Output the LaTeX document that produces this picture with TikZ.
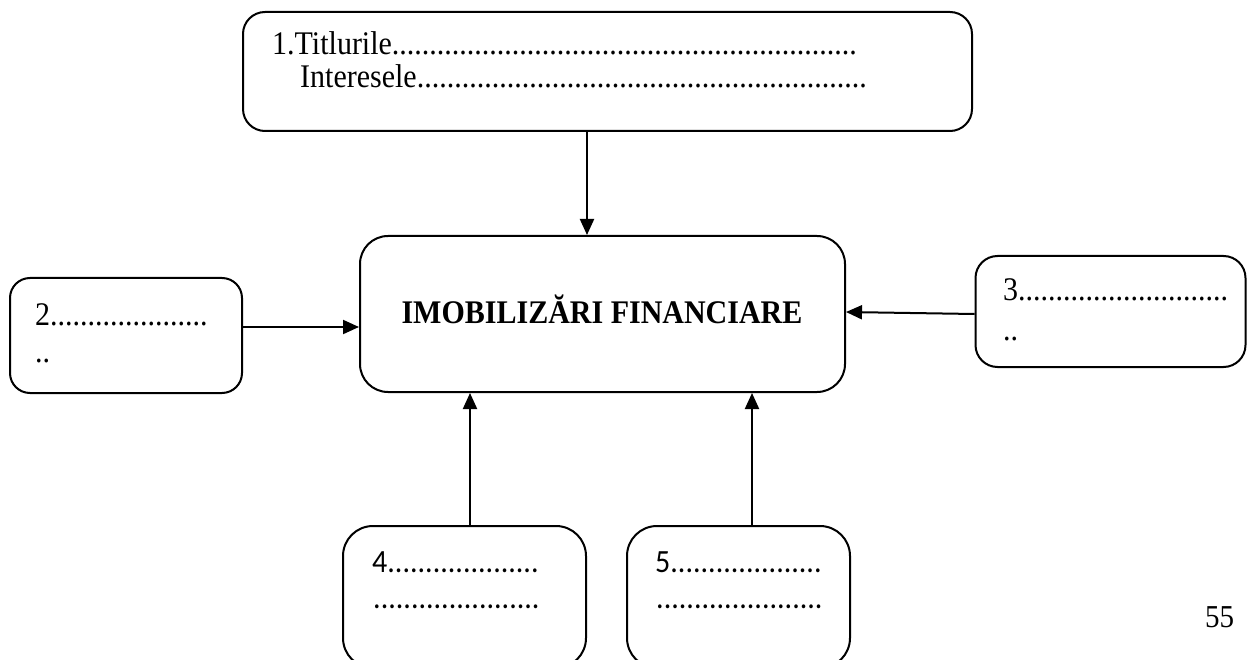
\documentclass[tikz,border=0pt]{standalone}
\usepackage{fontspec}
\setmainfont{Liberation Serif}
\newfontfamily\calibfont{Carlito}
\usetikzlibrary{arrows.meta}
\begin{document}
\begin{tikzpicture}[x=1pt,y=-1pt,
  box/.style={draw, line width=2pt, rounded corners=#1, inner sep=0pt},
  box/.default=22pt,
  txt/.style={anchor=base west, inner sep=0pt, yscale=1.1, transform shape,
              font=\fontsize{30}{33}\selectfont},
  stxt/.style={anchor=base west, inner sep=0pt, yscale=1.08, transform shape,
               font=\calibfont\fontsize{30}{33}\selectfont},
  arr/.style={line width=2pt, -{Triangle[length=16pt,width=14pt]}}]
\useasboundingbox (0,0) rectangle (1247,660);

% boxes
\node[box, minimum width=729pt, minimum height=119pt] (t) at (607.5,71.5) {};
\node[box=28pt, minimum width=485pt, minimum height=156pt] (m) at (602.5,314) {};
\node[box=20pt, minimum width=232pt, minimum height=115pt] (b2) at (126,335.5) {};
\node[box, minimum width=270pt, minimum height=111pt] (b3) at (1110.5,311.5) {};
\node[box=30pt, minimum width=243pt, minimum height=142pt] (b4) at (464.5,597) {};
\node[box=30pt, minimum width=223pt, minimum height=142pt] (b5) at (738.5,597) {};

% texts
\node[anchor=base, inner sep=0pt, yscale=1.1, transform shape,
      font=\bfseries\fontsize{30}{33}\selectfont] (mt) at (602,323) {IMOBILIZĂRI FINANCIARE};
\node[txt] (t1) at (272,55) {1.Titlurile..............................................................};
\node[txt] (t2) at (300,88) {Interesele............................................................};
\node[txt] (l2a) at (35,325) {2.....................};
\node[txt] (l2b) at (35,362) {..};
\node[txt] (l3a) at (1003,301) {3............................};
\node[txt] (l3b) at (1003,340) {..};
\node[stxt] (l4a) at (372,572) {4....................};
\node[stxt] (l4b) at (373,608) {......................};
\node[stxt] (l5a) at (655,572) {5....................};
\node[stxt] (l5b) at (656,608) {......................};
\node[txt, font=\fontsize{29}{33}\selectfont] (pg) at (1205,627) {55};

% connectors
\coordinate (a1) at ([xshift=-20.5pt]t.south);
\draw[arr] (a1) -- (a1 |- m.north);
\coordinate (a2) at ([yshift=8.5pt]b2.east);
\draw[arr] (a2) -- (a2 -| m.west);
\coordinate (a3s) at ([yshift=-2.5pt]b3.west);
\coordinate (a3e) at ([yshift=2pt]m.east);
\draw[arr] (a3s) -- (a3e);
\coordinate (a4) at ([xshift=5.5pt]b4.north);
\draw[arr] (a4) -- (a4 |- m.south);
\coordinate (a5) at ([xshift=13.5pt]b5.north);
\draw[arr] (a5) -- (a5 |- m.south);
\end{tikzpicture}
\end{document}
